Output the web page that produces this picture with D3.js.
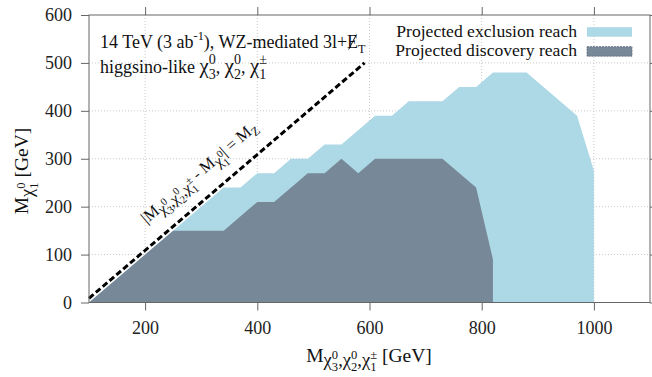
<!DOCTYPE html>
<html>
<head>
<meta charset="utf-8">
<script src="https://cdn.jsdelivr.net/npm/d3@7"></script>
<style>
  html, body { margin: 0; padding: 0; background: #fff; }
  svg { display: block; font-family: "Liberation Serif", "Times New Roman", serif; }
  svg text { white-space: pre; font-family: "Liberation Serif", "Times New Roman", serif; }
</style>
</head>
<body>
<svg id="chart" width="652" height="377"></svg>
<script>
// ---- data ----
const exclusionMass = [100, 340, 370, 400, 430, 460, 490, 520, 550, 610, 640, 670, 730, 760, 790, 820, 880, 970, 1000, 1000];
const exclusionLSP  = [0,   240, 240, 270, 270, 300, 300, 330, 330, 390, 390, 420, 420, 450, 450, 480, 480, 390, 275,  0];
const discoveryMass = [100, 250, 340, 400, 430, 490, 520, 550, 580, 610, 730, 790, 820, 820];
const discoveryLSP  = [0,   150, 150, 210, 210, 270, 270, 300, 270, 300, 300, 240, 90,  0];
const MZ = 91.2;
const diagonalMass = [100, 591.2];
const xTicks = [200, 400, 600, 800, 1000];
const yTicks = [0, 100, 200, 300, 400, 500, 600];
const legendLabels = ["Projected exclusion reach", "Projected discovery reach"];
const colors = ["#add8e6", "#778899"];

const svg = d3.select("#chart");
const L = 89, R = 650, T = 15, B = 302.5;
const x = d3.scaleLinear().domain([100, 1100]).range([L, R]);
const y = d3.scaleLinear().domain([0, 600]).range([B, T]);

// grid
const grid = svg.append("g").attr("stroke", "#c8c8c8").attr("stroke-width", 1).attr("stroke-dasharray", "1,2");
xTicks.forEach(v => grid.append("line").attr("x1", x(v)).attr("x2", x(v)).attr("y1", T).attr("y2", B));
yTicks.filter(v => v > 0 && v < 600).forEach(v => grid.append("line").attr("x1", L).attr("x2", R).attr("y1", y(v)).attr("y2", y(v)));

// areas
const line = d3.line().x(d => x(d[0])).y(d => y(d[1]));
const excl = exclusionMass.map((m, i) => [m, exclusionLSP[i]]);
const disc = discoveryMass.map((m, i) => [m, discoveryLSP[i]]);
svg.append("path").attr("d", line(excl) + "Z").attr("fill", colors[0]);
svg.append("path").attr("d", line(disc) + "Z").attr("fill", colors[1]);

// diagonal dashed line
const diag = diagonalMass.map(m => [m, m - MZ]);
svg.append("path").attr("d", line(diag)).attr("fill", "none")
   .attr("stroke", "#000").attr("stroke-width", 3).attr("stroke-dasharray", "6,3");

// axes
const axisColor = "#666";
function styleAxis(g) {
  g.attr("font-family", null).attr("font-size", null);
  g.select(".domain").attr("stroke", axisColor);
  g.selectAll(".tick line").attr("stroke", axisColor);
  g.selectAll(".tick text").attr("fill", "#222").attr("font-size", 18);
}
const fmt = d3.format("d");
svg.append("g").attr("transform", `translate(0,${B})`)
  .call(d3.axisBottom(x).tickValues(xTicks).tickFormat(fmt).tickSize(8).tickSizeOuter(0).tickPadding(11))
  .call(styleAxis);
svg.append("g").attr("transform", `translate(0,${T})`)
  .call(d3.axisTop(x).tickValues(xTicks).tickSize(8).tickSizeOuter(0).tickFormat(""))
  .call(styleAxis);
svg.append("g").attr("transform", `translate(${L},0)`)
  .call(d3.axisLeft(y).tickValues(yTicks).tickFormat(fmt).tickSize(8).tickSizeOuter(0).tickPadding(9))
  .call(styleAxis);
svg.append("g").attr("transform", `translate(${R},0)`)
  .call(d3.axisRight(y).tickValues(yTicks).tickSize(8).tickSizeOuter(0).tickFormat(""))
  .call(styleAxis);
svg.selectAll(".domain").remove();
svg.append("rect").attr("x", L).attr("y", T).attr("width", R - L).attr("height", B - T)
   .attr("fill", "none").attr("stroke", axisColor).attr("stroke-width", 1);

// rich text helper
function rich(parent, tokens, o) {
  const size = o.size;
  const g = parent.append("g").attr("transform", `translate(${o.x},${o.y}) rotate(${o.rotate || 0})`);
  const inner = g.append("g").attr("fill", "#111");
  let cx = 0;
  tokens.forEach(tk => {
    const s = (tk.s || 1) * size;
    const by = (tk.dy || 0) * size;
    if (tk.t) {
      const tx = inner.append("text").attr("x", cx).attr("y", by).attr("font-size", s).text(tk.t);
      const w = tx.node().getComputedTextLength();
      if (tk.slash) {
        inner.append("line").attr("x1", cx + w * 0.15).attr("y1", by + s * 0.08)
          .attr("x2", cx + w * 0.85).attr("y2", by - s * 0.75)
          .attr("stroke", "#111").attr("stroke-width", 1);
      }
      cx += w;
    }
    let sw = 0;
    const ss = s * 0.68;
    if (tk.sup) {
      const t2 = inner.append("text").attr("x", cx).attr("y", by - s * 0.42).attr("font-size", ss).text(tk.sup);
      sw = Math.max(sw, t2.node().getComputedTextLength());
    }
    if (tk.sub) {
      const t3 = inner.append("text").attr("x", cx).attr("y", by + s * 0.28).attr("font-size", ss).text(tk.sub);
      sw = Math.max(sw, t3.node().getComputedTextLength());
    }
    cx += sw;
  });
  if (o.anchor === "middle") inner.attr("transform", `translate(${-cx / 2},0)`);
  if (o.anchor === "end") inner.attr("transform", `translate(${-cx},0)`);
  return g;
}
const chi = (sup, sub, s, dy) => ({ t: "χ", sup, sub, s, dy });

// annotation text
rich(svg, [{ t: "14 TeV (3 ab", sup: "-1" }, { t: "), WZ-mediated 3l+" }, { t: "E", slash: true, sub: "T" }],
  { x: 100, y: 48, size: 18 });
rich(svg, [{ t: "higgsino-like " }, chi("0", "3", 1.15), { t: ", " }, chi("0", "2", 1.15), { t: ", " }, chi("±", "1", 1.15)],
  { x: 100, y: 73, size: 18 });

// axis titles
rich(svg, [{ t: "M" }, chi("0", "3", 0.95, 0.22), { t: ",", s: 0.95, dy: 0.22 }, chi("0", "2", 0.95, 0.22),
  { t: ",", s: 0.95, dy: 0.22 }, chi("±", "1", 0.95, 0.22), { t: " [GeV]" }],
  { x: 369, y: 362, size: 19.5, anchor: "middle" });
rich(svg, [{ t: "M" }, chi("0", "1", 0.95, 0.25), { t: " [GeV]" }],
  { x: 28, y: 171, size: 19.5, anchor: "middle", rotate: -90 });

// diagonal label
{
  const p0 = [x(diag[0][0]), y(diag[0][1])], p1 = [x(diag[1][0]), y(diag[1][1])];
  const len = Math.hypot(p1[0] - p0[0], p1[1] - p0[1]);
  const u = [(p1[0] - p0[0]) / len, (p1[1] - p0[1]) / len];
  const n = [u[1], -u[0]];
  const along = 92, perp = 19;
  const px = p0[0] + along * u[0] + perp * n[0], py = p0[1] + along * u[1] + perp * n[1];
  const ang = Math.atan2(u[1], u[0]) * 180 / Math.PI;
  rich(svg, [{ t: "|M" }, chi("0", "3", 0.95, 0.25), { t: ",", s: 0.95, dy: 0.25 }, chi("0", "2", 0.95, 0.25),
    { t: ",", s: 0.95, dy: 0.25 }, chi("±", "1", 0.95, 0.25), { t: " - M" }, chi("0", "1", 0.95, 0.25),
    { t: "| = M" }, { t: "Z", s: 0.75, dy: 0.25 }],
    { x: px, y: py, size: 16.5, rotate: ang });
}

// legend
const lg = svg.append("g");
legendLabels.forEach((lab, i) => {
  const by = 36.7 + i * 19.5;
  lg.append("text").attr("x", 577).attr("y", by).attr("text-anchor", "end")
    .attr("font-size", 17.6).attr("fill", "#111").text(lab);
  lg.append("rect").attr("x", 587).attr("y", by - 9.5).attr("width", 45).attr("height", 9.5)
    .attr("fill", colors[i])
    .attr("stroke", i === 1 ? "#5a6878" : "none").attr("stroke-width", 0.8)
    .attr("stroke-dasharray", i === 1 ? "2,1" : null);
});
</script>
</body>
</html>
